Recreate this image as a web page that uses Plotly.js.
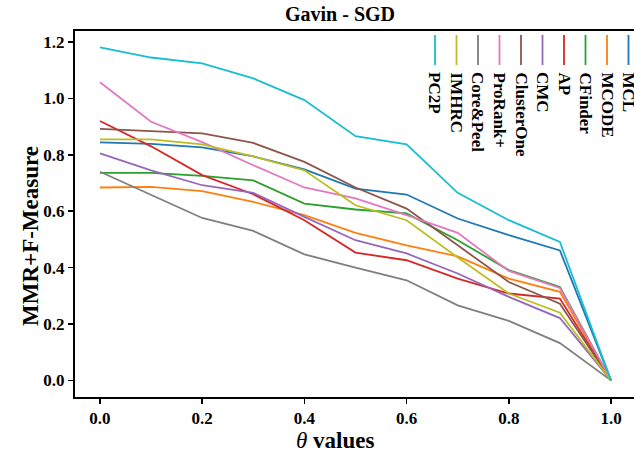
<!DOCTYPE html>
<html>
<head>
<meta charset="utf-8">
<script src="https://cdn.plot.ly/plotly-3.0.1.min.js"></script>
<style>html,body{margin:0;padding:0;background:#fff;}#chart{width:634px;height:463px;}</style>
</head>
<body>
<div id="chart"></div>
<script>
const theta = [0.0, 0.1, 0.2, 0.3, 0.4, 0.5, 0.6, 0.7, 0.8, 0.9, 1.0];
const MCL        = [0.844, 0.839, 0.826, 0.794, 0.748, 0.680, 0.659, 0.574, 0.515, 0.461, 0];
const MCODE      = [0.684, 0.686, 0.671, 0.633, 0.586, 0.523, 0.479, 0.440, 0.361, 0.314, 0];
const CFinder    = [0.736, 0.736, 0.725, 0.709, 0.627, 0.606, 0.592, 0.497, 0.391, 0.331, 0];
const AP         = [0.920, 0.830, 0.728, 0.660, 0.568, 0.453, 0.426, 0.361, 0.308, 0.290, 0];
const CMC        = [0.805, 0.745, 0.692, 0.665, 0.580, 0.497, 0.450, 0.379, 0.296, 0.221, 0];
const ClusterOne = [0.892, 0.884, 0.876, 0.842, 0.775, 0.684, 0.609, 0.479, 0.349, 0.272, 0];
const ProRank    = [1.057, 0.917, 0.845, 0.763, 0.684, 0.645, 0.586, 0.523, 0.388, 0.328, 0];
const CorePeel   = [0.740, 0.659, 0.576, 0.530, 0.447, 0.400, 0.355, 0.266, 0.211, 0.132, 0];
const IMHRC      = [0.855, 0.855, 0.837, 0.794, 0.745, 0.621, 0.568, 0.436, 0.308, 0.240, 0];
const PC2P       = [1.181, 1.145, 1.124, 1.071, 0.994, 0.866, 0.837, 0.665, 0.568, 0.491, 0];

const methods = ['MCL','MCODE','CFinder','AP','CMC','ClusterOne','ProRank+','Core&Peel','IMHRC','PC2P'];
const series  = [MCL, MCODE, CFinder, AP, CMC, ClusterOne, ProRank, CorePeel, IMHRC, PC2P];
const colors  = ['#1f77b4','#ff7f0e','#2ca02c','#d62728','#9467bd','#8c564b','#e377c2','#7f7f7f','#bcbd22','#17becf'];
const xTicks  = [0.0, 0.2, 0.4, 0.6, 0.8, 1.0];
const yTicks  = [0.0, 0.2, 0.4, 0.6, 0.8, 1.0, 1.2];

const FONT = 'Liberation Serif, Times New Roman, serif';
const W = 634, H = 463, L = 75, R = 0, T = 31, B = 66;
const pw = W - L - R, ph = H - T - B;
const px = v => (v - L) / pw;          // pixel -> paper x
const py = v => (H - B - v) / ph;      // pixel -> paper y

const traces = methods.map((m, i) => ({
  x: theta, y: series[i], type: 'scatter', mode: 'lines', name: m,
  line: {color: colors[i], width: 1.8}, showlegend: false
}));

// custom vertical legend (drawn right-to-left: PC2P ... MCL)
const shapes = [], annotations = [];
const legOrder = methods.slice().reverse();
const legColors = colors.slice().reverse();
legOrder.forEach((m, k) => {
  const cx = 435 + 21.5 * k;
  shapes.push({type: 'line', xref: 'paper', yref: 'paper',
    x0: px(cx), x1: px(cx), y0: py(35), y1: py(65),
    line: {color: legColors[k], width: 1.8}});
  annotations.push({xref: 'paper', yref: 'paper', x: px(cx), y: py(70),
    xanchor: 'center', yanchor: 'top', text: '<b>' + m + '</b>', textangle: 90,
    showarrow: false, font: {family: FONT, size: 17, color: '#000'}});
});
annotations.push({xref: 'paper', yref: 'paper', x: px(-2), y: py(-9), xanchor: 'left', yanchor: 'bottom',
  text: '<b>G</b>', showarrow: false, font: {family: FONT, size: 20, color: '#000'}});
// axis titles
annotations.push({xref: 'paper', yref: 'paper', x: px(335), y: py(441), xanchor: 'center', yanchor: 'middle',
  text: '<i>θ</i> <b>values</b>', showarrow: false, font: {family: FONT, size: 23, color: '#000'}});
annotations.push({xref: 'paper', yref: 'paper', x: px(30), y: py(236), xanchor: 'center', yanchor: 'middle',
  text: '<b>MMR+F-Measure</b>', textangle: -90, showarrow: false, font: {family: FONT, size: 23, color: '#000'}});

const layout = {
  width: W, height: H,
  margin: {l: L, r: R, t: T, b: B},
  paper_bgcolor: '#fff', plot_bgcolor: '#fff',
  title: {text: '<b>Gavin - SGD</b>', x: px(340), xref: 'paper', xanchor: 'center',
          y: 1 - 14 / H, yref: 'container', yanchor: 'middle',
          font: {family: FONT, size: 20, color: '#000'}},
  xaxis: {range: [-0.0489, 1.045], tickvals: xTicks, tickformat: '.1f',
          showgrid: false, zeroline: false, showline: true, mirror: true,
          linecolor: '#000', linewidth: 2, ticks: 'outside', ticklen: 5, tickwidth: 1.5, tickcolor: '#000',
          tickfont: {family: FONT, size: 17, color: '#000', weight: 'bold'}},
  yaxis: {range: [-0.059, 1.239], tickvals: yTicks, tickformat: '.1f',
          showgrid: false, zeroline: false, showline: true, mirror: false,
          linecolor: '#000', linewidth: 2, ticks: 'outside', ticklen: 5, tickwidth: 1.5, tickcolor: '#000',
          tickfont: {family: FONT, size: 17, color: '#000', weight: 'bold'}},
  shapes: shapes, annotations: annotations
};

Plotly.newPlot('chart', traces, layout, {displayModeBar: false, staticPlot: true});
</script>
</body>
</html>
